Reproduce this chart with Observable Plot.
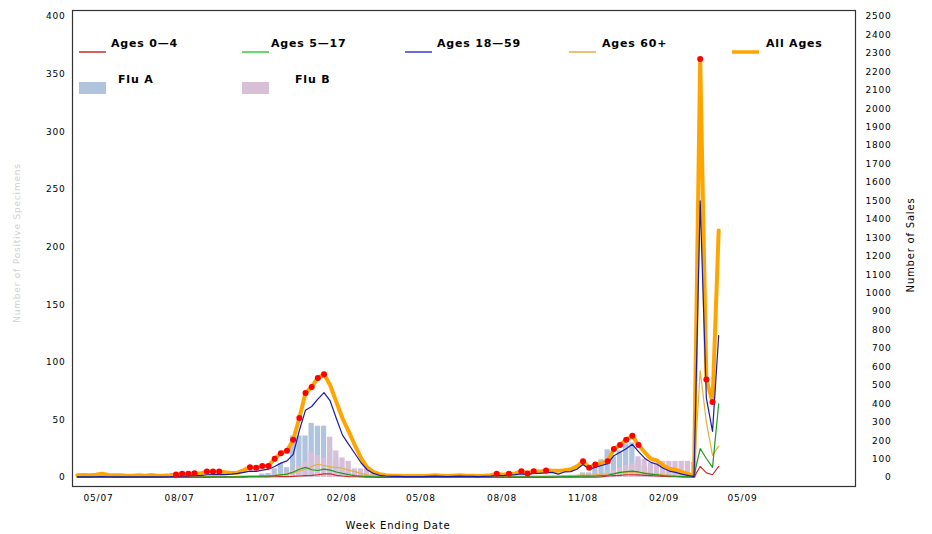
<!DOCTYPE html>
<html>
<head>
<meta charset="utf-8">
<script src="https://cdn.jsdelivr.net/npm/d3@7"></script>
<script src="https://cdn.jsdelivr.net/npm/@observablehq/plot@0.6"></script>
<style>
  body { margin: 0; background: #fff; }
  #chart { position: relative; width: 932px; height: 534px; }
  #chart svg text { letter-spacing: 0.8px; }
</style>
</head>
<body>
<div id="chart"></div>
<script>
// ---------- DATA (weekly, week ending Saturday) ----------
const firstWeekEnding = "2007-04-07";

// Number of sales (right axis)
const allAges = [
  12, 14, 12, 15, 20, 14, 12, 12, 10, 10,
  12, 10, 13, 10, 10, 12, 16, 20, 20, 23,
  22, 33, 33, 33, 28, 24, 26, 40, 56, 53,
  63, 63, 102, 131, 145, 205, 323, 458, 491, 540,
  560, 500, 410, 320, 250, 175, 105, 55, 30, 18,
  12, 10, 10, 8, 8, 8, 8, 10, 12, 10,
  8, 10, 12, 10, 10, 8, 10, 12, 20, 15,
  20, 22, 34, 22, 34, 32, 38, 36, 36, 40,
  45, 60, 88, 53, 70, 78, 88, 155, 176, 205,
  226, 176, 137, 101, 92, 65, 47, 42, 30, 20,
  8, 2270, 531, 409, 1340
];
const ages18to59 = [
  3, 4, 3, 4, 5, 4, 3, 3, 3, 3,
  4, 3, 4, 3, 3, 4, 6, 8, 8, 10,
  10, 15, 16, 17, 16, 18, 22, 28, 35, 33,
  40, 45, 60, 78, 90, 125, 255, 365, 385, 425,
  460, 415, 320, 230, 180, 130, 80, 42, 22, 12,
  8, 6, 6, 5, 5, 5, 5, 6, 7, 6,
  5, 6, 7, 6, 6, 5, 6, 7, 12, 10,
  14, 16, 20, 16, 22, 22, 25, 28, 18, 30,
  32, 45, 70, 45, 55, 65, 75, 118, 137, 156,
  180, 140, 105, 82, 72, 50, 35, 28, 18, 12,
  4, 1500, 430, 250, 770
];
const ages60plus = [
  4, 5, 4, 5, 6, 5, 4, 4, 4, 3,
  4, 4, 4, 3, 4, 4, 4, 5, 5, 5,
  5, 6, 6, 6, 5, 5, 6, 7, 8, 8,
  8, 8, 12, 15, 18, 25, 35, 45, 60, 72,
  65, 58, 55, 50, 40, 32, 22, 14, 10, 8,
  6, 5, 4, 4, 4, 3, 3, 4, 4, 4,
  3, 4, 4, 4, 4, 3, 4, 4, 5, 5,
  6, 6, 8, 7, 8, 8, 8, 9, 9, 10,
  10, 12, 14, 12, 15, 18, 20, 22, 25, 28,
  30, 28, 25, 20, 18, 15, 12, 10, 8, 6,
  20, 580, 300, 120, 170
];
const ages5to17 = [
  2, 2, 2, 2, 3, 2, 2, 2, 1, 1,
  1, 1, 1, 1, 1, 1, 2, 2, 2, 2,
  2, 3, 3, 3, 3, 3, 4, 5, 6, 6,
  7, 8, 10, 14, 18, 30, 45, 55, 42, 38,
  45, 40, 30, 22, 16, 10, 8, 6, 4, 3,
  2, 2, 2, 1, 1, 1, 1, 1, 1, 1,
  1, 1, 1, 1, 1, 1, 1, 2, 2, 2,
  2, 3, 3, 3, 3, 3, 4, 4, 4, 5,
  5, 6, 8, 7, 8, 10, 12, 20, 28, 32,
  35, 30, 22, 18, 14, 10, 8, 6, 5, 4,
  10, 157, 103, 55, 400
];
const ages0to4 = [
  1, 1, 1, 1, 1, 1, 1, 1, 1, 1,
  1, 1, 1, 1, 1, 1, 1, 1, 1, 1,
  1, 1, 2, 2, 2, 2, 2, 2, 3, 3,
  3, 3, 4, 5, 5, 6, 8, 10, 12, 15,
  20, 20, 12, 8, 5, 4, 3, 2, 2, 1,
  1, 1, 1, 1, 1, 1, 1, 1, 1, 1,
  1, 1, 1, 1, 1, 1, 1, 1, 1, 1,
  1, 1, 1, 1, 1, 1, 1, 1, 2, 2,
  2, 2, 2, 2, 2, 3, 8, 10, 12, 15,
  15, 14, 12, 10, 8, 6, 5, 4, 3, 2,
  2, 60, 25, 15, 60
];
// Lab positives (left axis)
const fluA = [
  0, 0, 0, 0, 0, 0, 0, 0, 0, 0,
  0, 0, 0, 0, 0, 0, 0, 0, 0, 0,
  0, 0, 0, 0, 0, 0, 0, 0, 0, 0,
  3, 3.5, 7.5, 12, 8.5, 36, 36, 36, 47, 44.5,
  44.5, 25, 15, 9, 6, 3, 2, 1, 1, 0,
  0, 0, 0, 0, 0, 0, 0, 0, 0, 0,
  0, 0, 0, 0, 0, 0, 0, 0, 0, 0,
  0, 0, 0, 0, 0, 0, 0, 0, 0, 0,
  2, 2, 4, 4, 12, 15.5, 24, 18, 23, 29,
  30, 15, 10, 8, 6, 5, 4, 3, 3, 2,
  2, 0, 0, 0, 0
];
const fluB = [
  0, 0, 0, 0, 0, 0, 0, 0, 0, 0,
  0, 0, 0, 0, 0, 0, 0, 0, 0, 0,
  0, 0, 0, 0, 0, 0, 0, 0, 0, 0,
  1, 1, 2, 3, 4, 6, 10, 13, 22, 19,
  17, 35, 23, 17, 14, 7.5, 7.5, 7.5, 4, 2,
  0, 0, 0, 0, 0, 0, 0, 0, 0, 0,
  0, 0, 0, 0, 0, 0, 0, 0, 0, 0,
  0, 0, 0, 0, 0, 0, 0, 0, 0, 0,
  0.5, 0.5, 1, 1, 2, 3, 5, 6, 8, 10,
  12, 18, 16, 12.5, 12.5, 14, 14, 14, 14, 14,
  13, 0, 0, 0, 0
];
// weeks (index) flagged with a red marker on the All Ages line
const alertWeekIdx = [16, 17, 18, 19, 21, 22, 23, 28, 29, 30, 31, 32, 33, 34, 35, 36, 37, 38, 39, 40,
  68, 70, 72, 73, 74, 76, 82, 83, 84, 86, 87, 88, 89, 90, 91, 101, 102, 103];

const leftTicks = [0, 50, 100, 150, 200, 250, 300, 350, 400];
const rightTicks = [0, 100, 200, 300, 400, 500, 600, 700, 800, 900, 1000, 1100, 1200, 1300,
  1400, 1500, 1600, 1700, 1800, 1900, 2000, 2100, 2200, 2300, 2400, 2500];
const xTickLabels = ["05/07", "08/07", "11/07", "02/08", "05/08", "08/08", "11/08", "02/09", "05/09"];

const salesPerLeftUnit = 6.25;   // 2500 sales on the right ↔ 400 on the left

// ---------- BUILD ----------
const start = new Date(firstWeekEnding + "T00:00:00Z");
const rows = allAges.map((v, i) => ({
  date: d3.utcDay.offset(start, 7 * i),
  all: v, a18: ages18to59[i], a60: ages60plus[i], a5: ages5to17[i], a0: ages0to4[i],
  fluA: fluA[i], fluB: fluB[i]
}));
const parseMY = d3.utcParse("%m/%y");
const xTicks = xTickLabels.map(parseMY);
const toLeft = s => s / salesPerLeftUnit;

const C = {
  a0: "#cc2a2a", a5: "#1f9a1f", a18: "#1c1ca6", a60: "#e2b040", all: "#ffa500",
  fluA: "#b0c4de", fluB: "#d8bfd8"
};

const barX1 = d => d3.utcDay.offset(d.date, -3);
const barX2 = d => d3.utcDay.offset(d.date, 3);

const plot = Plot.plot({
  width: 932,
  height: 534,
  marginLeft: 72,
  marginRight: 77,
  marginTop: 10,
  marginBottom: 48,
  style: { fontFamily: "DejaVu Sans", fontSize: "9px", background: "#fff", color: "#000" },
  x: { type: "utc", domain: [new Date("2007-04-01T12:00:00Z"), new Date("2009-09-06T07:00:00Z")] },
  y: { domain: [0, 400], insetTop: 6, insetBottom: 9 },
  marks: [
    Plot.rectY(rows.filter(d => d.fluA > 0), { x1: barX1, x2: barX2, y: "fluA", fill: C.fluA }),
    Plot.rectY(rows.filter(d => d.fluB > 0), { x1: barX1, x2: barX2, y: "fluB", fill: C.fluB }),
    Plot.line(rows, { x: "date", y: d => toLeft(d.all), stroke: C.all, strokeWidth: 4 }),
    Plot.line(rows, { x: "date", y: d => toLeft(d.a60), stroke: C.a60, strokeWidth: 1.2 }),
    Plot.line(rows, { x: "date", y: d => toLeft(d.a0), stroke: C.a0, strokeWidth: 1.2 }),
    Plot.line(rows, { x: "date", y: d => toLeft(d.a5), stroke: C.a5, strokeWidth: 1.2 }),
    Plot.line(rows, { x: "date", y: d => toLeft(d.a18), stroke: C.a18, strokeWidth: 1.2 }),
    Plot.dot(alertWeekIdx.map(i => rows[i]), { x: "date", y: d => toLeft(d.all), r: 3, fill: "#ff0000", stroke: "none" }),
    Plot.frame({ stroke: "#333", strokeWidth: 1.2 }),
    Plot.axisY({ anchor: "left", ticks: leftTicks, tickSize: 0, tickPadding: 7, label: null }),
    Plot.axisY({ anchor: "right", ticks: rightTicks.map(toLeft), tickFormat: v => String(Math.round(v * salesPerLeftUnit)),
      tickSize: 0, tickPadding: 36, textAnchor: "end", label: null }),
    Plot.axisX({ ticks: xTicks, tickFormat: d3.utcFormat("%m/%y"), tickSize: 0, tickPadding: 8, label: null })
  ]
});

document.getElementById("chart").appendChild(plot);

// ---------- TITLES & LEGEND ----------
const svg = d3.select(plot);
svg.append("text").attr("x", 398).attr("y", 529).attr("text-anchor", "middle")
  .attr("font-family", "DejaVu Sans").attr("font-size", 10).text("Week Ending Date");
svg.append("text").attr("transform", "translate(914,245) rotate(-90)").attr("text-anchor", "middle")
  .attr("font-family", "DejaVu Sans").attr("font-size", 10).text("Number of Sales");
svg.append("text").attr("transform", "translate(20,243) rotate(-90)").attr("text-anchor", "middle")
  .attr("font-family", "DejaVu Sans").attr("font-size", 9).attr("fill", "#cfcfcf").text("Number of Positive Specimens");

const lg = svg.append("g").attr("font-family", "DejaVu Sans").attr("font-weight", "bold")
  .attr("font-size", 11).attr("text-anchor", "start").style("letter-spacing", "1.6px");
const lineItems = [
  { label: "Ages 0—4", color: C.a0, sx: 79, tx: 111, w: 1.5 },
  { label: "Ages 5—17", color: "#33cc33", sx: 242, tx: 271, w: 1.5 },
  { label: "Ages 18—59", color: "#3a3ad0", sx: 405, tx: 437, w: 1.5 },
  { label: "Ages 60+", color: C.a60, sx: 569, tx: 602, w: 1.5 },
  { label: "All Ages", color: C.all, sx: 732, tx: 766, w: 3.5 }
];
lineItems.forEach(it => {
  lg.append("line").attr("x1", it.sx).attr("x2", it.sx + 27).attr("y1", 52).attr("y2", 52)
    .attr("stroke", it.color).attr("stroke-width", it.w);
  lg.append("text").attr("x", it.tx).attr("y", 47).attr("text-anchor", "start").text(it.label);
});
const boxItems = [
  { label: "Flu A", color: C.fluA, sx: 79, tx: 118 },
  { label: "Flu B", color: C.fluB, sx: 242, tx: 295 }
];
boxItems.forEach(it => {
  lg.append("rect").attr("x", it.sx).attr("y", 82).attr("width", 27).attr("height", 12).attr("fill", it.color);
  lg.append("text").attr("x", it.tx).attr("y", 83).attr("text-anchor", "start").text(it.label);
});
</script>
</body>
</html>
